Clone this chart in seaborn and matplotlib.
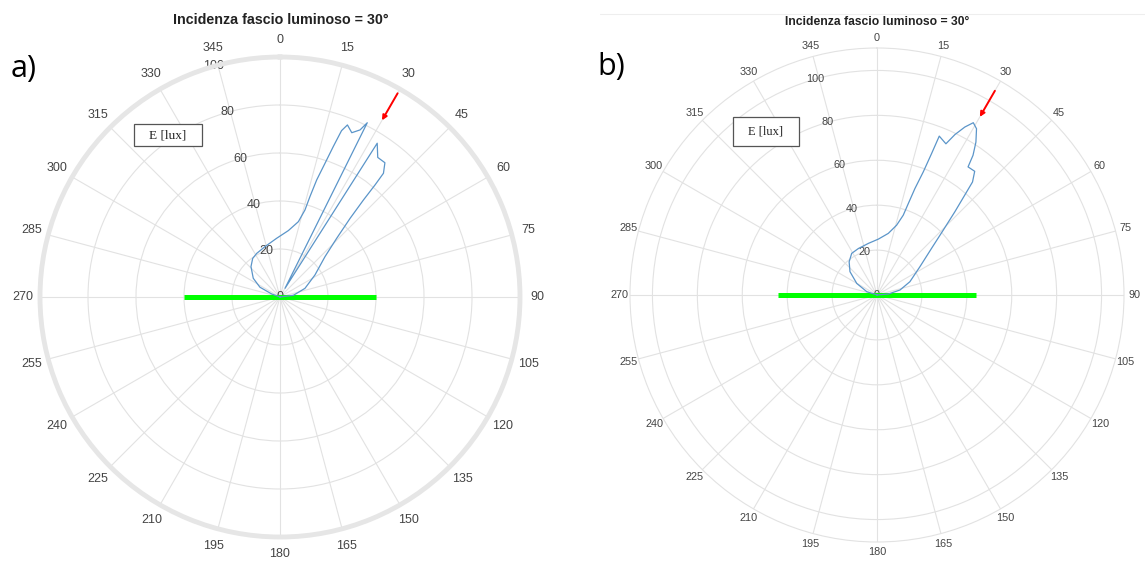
import numpy as np
import matplotlib
matplotlib.use("Agg")
import matplotlib.pyplot as plt
import matplotlib.patches as mpatches
from matplotlib.lines import Line2D
import seaborn as sns

# ---- data -------------------------------------------------------------
# panel a): illuminance E [lux] vs. angle [deg] (0 = zenith, clockwise)
theta_a = [-90, -70, -64, -55, -43.7, -35.3, -28.1, -16.6, -3.3, 7.2, 13.7,
           16.0, 16.6, 17.4, 18.6, 19.5, 20.3, 21.4, 23.6, 25.6, 26.6, 30.0,
           32.3, 35.0, 38.0, 39.9, 40.3, 40.7, 41.7, 44.0, 48.1, 57.8, 70.9,
           82.9, 90]
e_a = [0, 3.7, 9.3, 13.6, 17.5, 19.7, 20.6, 21.9, 24.5, 27.9, 32.3,
       37.7, 43.6, 51.1, 58.8, 66.5, 73.9, 77.0, 74.7, 77.2, 81.2, 4.2,
       75.8, 71.0, 71.0, 67.2, 61.2, 53.3, 43.9, 34.0, 25.2, 17.2, 11.0,
       5.6, 0]

# panel b)
theta_b = [-90, -72, -60.2, -49.2, -40, -31.3, -21.8, -9.5, 1.4, 10.4, 15.7,
           18.2, 18.9, 19.6, 20.6, 21.1, 21.4, 24.5, 25.9, 27.6, 29.2, 30.9,
           32.9, 34.5, 35.4, 38.3, 40.2, 41.3, 43.1, 45.6, 49.5, 56.6, 68,
           77.7, 85, 90]
e_b = [0, 4.8, 10.4, 15.9, 19.3, 21.7, 22.3, 23.3, 24.9, 27.9, 32.3,
       37.4, 43.1, 50.3, 58.6, 67.5, 76.0, 74.0, 79.4, 84.4, 87.9, 86.3,
       81.1, 75.5, 70.0, 70.2, 65.9, 59.2, 50.7, 41.3, 31.9, 22.9, 15.8,
       10.5, 5.1, 0]

angle_ticks = list(range(0, 360, 15))
angle_labels = [str(a) for a in angle_ticks]
r_ticks = [0, 20, 40, 60, 80, 100]
r_labels = [str(r) for r in r_ticks]

incidence = 30            # beam incidence [deg]
surface_a = 40            # half-width of the sample surface (panel a)
surface_b = 44            # half-width of the sample surface (panel b)
arrow_a = (98, 85)        # beam arrow: start / tip radius
arrow_b = (105, 91.6)

title = "Incidenza fascio luminoso = 30°"
unit_label = "E [lux]"

# ---- style ------------------------------------------------------------
sns.set_theme(style="white")
plt.rcParams["font.family"] = ["Liberation Sans", "DejaVu Sans"]

W, H = 1145, 563
fig = plt.figure(figsize=(W / 100, H / 100), dpi=100)
fig.patch.set_facecolor("white")


def px_box(cx, cy, rad):
    return [(cx - rad) / W, 1 - (cy + rad) / H, 2 * rad / W, 2 * rad / H]


def fx(x):
    return x / W


def fy(y):
    return 1 - y / H


ax_a = fig.add_axes(px_box(280, 297, 240), projection="polar")
ax_b = fig.add_axes(px_box(877, 295, 247), projection="polar")

GRID = "#e2e2e2"
TXT = "#444444"


def style_axes(ax, rmax, fs, pad, spine_lw, spine_col):
    ax.set_theta_zero_location("N")
    ax.set_theta_direction(-1)
    ax.set_thetagrids(angle_ticks, labels=angle_labels)
    ax.set_rlim(0, rmax)
    ax.set_rticks(r_ticks)
    ax.set_yticklabels(r_labels)
    ax.set_rlabel_position(344)
    ax.grid(True, color=GRID, lw=0.8)
    ax.tick_params(axis="x", length=0, pad=pad, labelsize=fs, colors=TXT)
    ax.tick_params(axis="y", length=0, pad=0, labelsize=fs, colors=TXT)
    for lbl in ax.get_yticklabels():
        lbl.set_ha("center")
        lbl.set_va("center")
    ax.spines["polar"].set_color(spine_col)
    ax.spines["polar"].set_linewidth(spine_lw)
    ax.set_xlabel("")
    ax.set_ylabel("")


def draw_panel(ax, theta, e, surf, arrow, rmax, fs, pad, spine_lw, spine_col):
    sns.lineplot(x=np.deg2rad(theta), y=e, ax=ax, sort=False, estimator=None,
                 color="#5b95c9", lw=0.9, zorder=4)
    ax.plot(np.deg2rad([270, 0, 90]), [surf, 0, surf], color="#00ff00",
            lw=3.6, solid_capstyle="butt", zorder=3)
    ax.annotate("", xy=(np.deg2rad(incidence), arrow[1]),
                xytext=(np.deg2rad(incidence), arrow[0]),
                arrowprops=dict(arrowstyle="-|>", color="red", lw=1.4,
                                mutation_scale=7, shrinkA=0, shrinkB=0),
                zorder=5)
    style_axes(ax, rmax, fs, pad, spine_lw, spine_col)


draw_panel(ax_a, theta_a, e_a, surface_a, arrow_a, 100, 9, 5.5, 3.5, "#e6e6e6")
draw_panel(ax_b, theta_b, e_b, surface_b, arrow_b, 110, 7.8, 0.5, 0.8, GRID)

# titles
fig.text(fx(281), fy(20), title, ha="center", va="center",
         fontsize=10.3, fontweight="bold", color="#222222")
fig.text(fx(877), fy(22), title, ha="center", va="center",
         fontsize=8.7, fontweight="bold", color="#222222")

# panel letters
fig.text(fx(24), fy(69), "a)", ha="center", va="center", fontsize=22,
         family=["Open Sans", "DejaVu Sans"], color="black")
fig.text(fx(611), fy(67), "b)", ha="center", va="center", fontsize=22,
         family=["Open Sans", "DejaVu Sans"], color="black")

# unit boxes
for (x0, y0, x1, y1), fs in [((134, 124, 202, 146), 9.5),
                              ((733, 117, 799, 146), 9)]:
    fig.add_artist(mpatches.Rectangle((fx(x0), fy(y1)), fx(x1 - x0),
                                      (y1 - y0) / H, transform=fig.transFigure,
                                      facecolor="white", edgecolor="#555555",
                                      lw=0.9, zorder=10))
    fig.text(fx((x0 + x1) / 2), fy((y0 + y1) / 2), unit_label, ha="center",
             va="center", fontsize=fs, family=["Liberation Serif"],
             color="#222222", zorder=11)

# faint separator at the top of the right half
fig.add_artist(Line2D([fx(600), fx(1145)], [fy(14), fy(14)],
                      transform=fig.transFigure, color="#eeeeee", lw=0.8))

fig.savefig("out.png", dpi=100, facecolor="white")
